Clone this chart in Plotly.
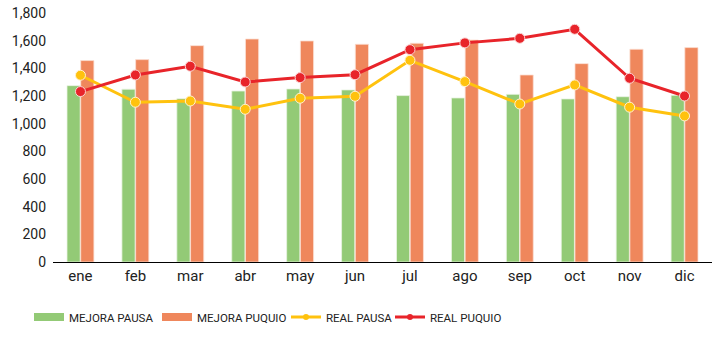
import plotly.graph_objects as go

# Monthly categories
months = ["ene", "feb", "mar", "abr", "may", "jun", "jul", "ago", "sep", "oct", "nov", "dic"]

# Target (improvement) values per site
mejora_pausa = [1275, 1249, 1181, 1236, 1251, 1244, 1203, 1186, 1212, 1179, 1195, 1205]
mejora_puquio = [1456, 1463, 1564, 1612, 1598, 1574, 1581, 1605, 1352, 1434, 1538, 1550]

# Actual values per site
real_pausa = [1350, 1155, 1164, 1104, 1184, 1198, 1458, 1304, 1142, 1280, 1119, 1056]
real_puquio = [1232, 1352, 1415, 1301, 1333, 1354, 1535, 1584, 1617, 1682, 1328, 1200]

y_ticks = [0, 200, 400, 600, 800, 1000, 1200, 1400, 1600, 1800]

GREEN = "#93CA76"
ORANGE = "#EF875C"
YELLOW = "#FFC20E"
RED = "#E8242A"

fig = go.Figure()

# Data traces (legend entries are drawn by the proxy traces below)
fig.add_trace(go.Bar(x=months, y=mejora_pausa, name="MEJORA PAUSA", legendgroup="mp",
                     showlegend=False,
                     marker=dict(color=GREEN, line=dict(color="#EAF4E3", width=0.8))))
fig.add_trace(go.Bar(x=months, y=mejora_puquio, name="MEJORA PUQUIO", legendgroup="mq",
                     showlegend=False,
                     marker=dict(color=ORANGE, line=dict(color="#FBE0D4", width=0.8))))
fig.add_trace(go.Scatter(x=months, y=real_pausa, name="REAL PAUSA", mode="lines+markers",
                         legendgroup="rp", showlegend=False,
                         line=dict(color=YELLOW, width=3),
                         marker=dict(size=10, color=YELLOW, line=dict(color="#FFF3D0", width=1))))
fig.add_trace(go.Scatter(x=months, y=real_puquio, name="REAL PUQUIO", mode="lines+markers",
                         legendgroup="rq", showlegend=False,
                         line=dict(color=RED, width=3),
                         marker=dict(size=10, color=RED, line=dict(color="#FBD3D3", width=1))))

# Legend proxies: flat swatches for bars, thin line with small dot for lines
fig.add_trace(go.Scatter(x=[None], y=[None], mode="lines", name="MEJORA PAUSA",
                         legendgroup="mp", legend="legend",
                         line=dict(color=GREEN, width=8)))
fig.add_trace(go.Scatter(x=[None], y=[None], mode="lines", name="MEJORA PUQUIO",
                         legendgroup="mq", legend="legend2",
                         line=dict(color=ORANGE, width=8)))
fig.add_trace(go.Scatter(x=[None], y=[None], mode="lines+markers", name="REAL PAUSA",
                         legendgroup="rp", legend="legend3",
                         line=dict(color=YELLOW, width=3), marker=dict(size=6, color=YELLOW)))
fig.add_trace(go.Scatter(x=[None], y=[None], mode="lines+markers", name="REAL PUQUIO",
                         legendgroup="rq", legend="legend4",
                         line=dict(color=RED, width=3), marker=dict(size=6, color=RED)))


def legend_box(left_px):
    return dict(orientation="h", x=left_px / 720, xanchor="left", xref="container",
                y=0.059, yanchor="middle", yref="container",
                font=dict(size=11.5, color="#222222"), itemwidth=30,
                bgcolor="rgba(0,0,0,0)")


fig.update_layout(
    width=720, height=337,
    margin=dict(l=53, r=8, t=13, b=75),
    paper_bgcolor="white", plot_bgcolor="white",
    font=dict(family="Roboto, Arial, sans-serif", size=14, color="#222222"),
    barmode="group", bargap=0.5, bargroupgap=0.04,
    showlegend=True,
    legend=legend_box(29),
    legend2=legend_box(157),
    legend3=legend_box(286),
    legend4=legend_box(390),
    xaxis=dict(range=[-0.5, 11.5], showline=True, linecolor="#000000", linewidth=1,
               ticks="", showgrid=False, tickfont=dict(size=15), automargin=False),
    yaxis=dict(range=[0, 1800], tickvals=y_ticks, tickformat=",", showgrid=False,
               zeroline=False, showline=False, ticks="", automargin=False,
               ticklabelstandoff=6, tickfont=dict(size=14)),
)

fig.write_html("out.html")
